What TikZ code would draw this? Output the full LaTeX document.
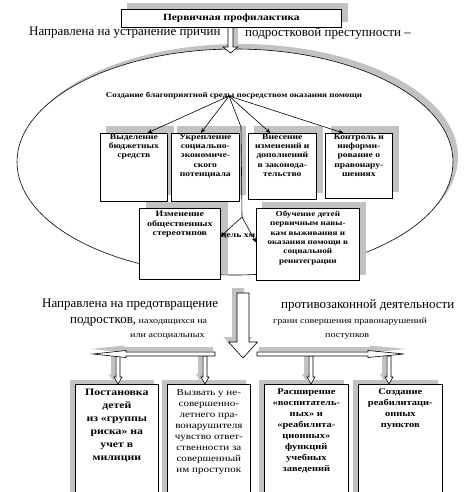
\documentclass[tikz,border=0pt]{standalone}
\usepackage{fontspec}
\setmainfont{Liberation Serif}
\newfontfamily\sfont[FakeStretch=1.2]{Liberation Serif}
\usetikzlibrary{arrows.meta,calc}
\pgfdeclarelayer{back}
\pgfdeclarelayer{bg}
\pgfsetlayers{back,bg,main}
\definecolor{shd}{gray}{0.76}
\newcommand{\vbarrow}[7]{%
  \fill[shd,shift={#7}] (#1-#5,#2) -- (#1+#5,#2) -- (#1+#5,#3) -- (#1+#6,#3) -- (#1,#4) -- (#1-#6,#3) -- (#1-#5,#3) -- cycle;
  \draw[fill=white,line width=0.6pt] (#1-#5,#2) -- (#1+#5,#2) -- (#1+#5,#3) -- (#1+#6,#3) -- (#1,#4) -- (#1-#6,#3) -- (#1-#5,#3) -- cycle;}
\newcommand{\hbarrow}[7]{%
  \fill[shd,shift={#7}] (#2,#1-#5) -- (#3,#1-#5) -- (#3,#1-#6) -- (#4,#1) -- (#3,#1+#6) -- (#3,#1+#5) -- (#2,#1+#5) -- cycle;
  \draw[fill=white,line width=0.6pt] (#2,#1-#5) -- (#3,#1-#5) -- (#3,#1-#6) -- (#4,#1) -- (#3,#1+#6) -- (#3,#1+#5) -- (#2,#1+#5) -- cycle;}
\newcommand{\shadowof}[3]{%
  \begin{pgfonlayer}{bg}\fill[shd] ($(#1.south west)+(#2,#3)$) rectangle ($(#1.north east)+(#2,#3)$);\end{pgfonlayer}}
\tikzset{
  box/.style={draw, line width=0.7pt, fill=white, anchor=north west, inner sep=0pt},
  btxt/.style={anchor=north, align=center, inner sep=0pt, font=\sfont\bfseries\fontsize{8}{9.2}\selectfont},
  etxt/.style={anchor=north, align=center, inner sep=0pt, font=\sfont\bfseries\fontsize{8.2}{9.6}\selectfont},
  ftxt/.style={anchor=north, align=center, inner sep=0pt, font=\sfont\bfseries\fontsize{7.6}{9.3}\selectfont},
  gtxt/.style={anchor=north, align=center, inner sep=0pt, font=\sfont\bfseries\fontsize{9.8}{13}\selectfont},
  itxt/.style={anchor=north, align=center, inner sep=0pt, font=\sfont\bfseries\fontsize{8.7}{11}\selectfont},
  htxt/.style={anchor=north, align=center, inner sep=0pt, font=\sfont\fontsize{9.2}{11}\selectfont},
  big/.style={anchor=west, inner sep=0pt, font=\fontsize{13}{15}\selectfont},
  small/.style={anchor=west, inner sep=0pt, font=\sfont\fontsize{8.4}{10}\selectfont},
  arr/.style={line width=0.6pt, -{Stealth[length=5pt,width=4pt]}},
  conn/.style={line width=0.6pt}
}
\begin{document}
\begin{tikzpicture}[x=1pt,y=-1pt]
\path[use as bounding box] (0,0) rectangle (469,492);
\clip (0,0) rectangle (469,492);
% ellipse
\begin{pgfonlayer}{back}
\fill[shd] (240,157) ellipse [x radius=218pt, y radius=113pt];
\draw[fill=white,line width=0.6pt] (235,162) ellipse [x radius=218pt, y radius=113pt];
\end{pgfonlayer}
% top arrow and box
\vbarrow{230.5}{27}{47}{53}{2.5}{7.5}{(5,-3)}
\node[box, minimum width=220pt, minimum height=18pt] (top) at (121,9) {};
\shadowof{top}{6}{-6}
\node[anchor=center, inner sep=0pt, font=\sfont\bfseries\fontsize{9.5}{11}\selectfont] (toptxt) at (top.center) {Первичная профилактика};
\node[big] (t1) at (29,33) {Направлена на устранение причин};
\node[big] (t2) at (245,33) {подростковой преступности –};
% heading
\node[inner sep=0pt, font=\sfont\bfseries\fontsize{7.5}{9}\selectfont] (hd) at (234,96) {Создание благоприятной среды посредством оказания помощи};
\coordinate (hub) at (229,96);
% row 1 boxes
\node[box, minimum width=67pt, minimum height=68pt] (A) at (100,133) {};
\shadowof{A}{6}{-7}
\node[btxt] at ([yshift=-1pt]A.north) {Выделение\\бюджетных\\средств};
\node[box, minimum width=68pt, minimum height=68pt] (B) at (171,133) {};
\shadowof{B}{6}{-7}
\node[btxt] at ([yshift=-1pt]B.north) {Укрепление\\социально-\\экономиче-\\ского\\потенциала};
\node[box, minimum width=68pt, minimum height=66pt] (C) at (248,133) {};
\shadowof{C}{6}{-7}
\node[btxt] at ([yshift=-1pt]C.north) {Внесение\\изменений и\\дополнений\\в законода-\\тельство};
\node[box, minimum width=67pt, minimum height=65pt] (D) at (325,133) {};
\shadowof{D}{6}{-7}
\node[btxt] at ([yshift=-1pt]D.north) {Контроль и\\информи-\\рование о\\правонару-\\шениях};
% row 2
\node[anchor=west, inner sep=0pt, font=\sfont\bfseries\fontsize{8}{9}\selectfont] (hid) at (221,236) {цель хм};
\node[box, minimum width=81pt, minimum height=71pt] (E) at (139,208) {};
\shadowof{E}{7}{-6}
\node[etxt] at ([yshift=-3pt]E.north) {Изменение\\общественных\\стереотипов};
\node[box, minimum width=103pt, minimum height=72pt] (F) at (256,208) {};
\shadowof{F}{6}{-6}
\node[ftxt] at ([yshift=-3pt]F.north) {Обучение детей\\первичным навы-\\кам выживания и\\оказания помощи в\\социальной\\реинтеграции};
% connectors
\coordinate (bend) at (241,127);
\coordinate (fork) at (242,217);
\draw[arr] (hub) -- ([xshift=13.5pt]A.north);
\draw[arr] (hub) -- ([xshift=-4.5pt]B.north);
\draw[arr] (hub) -- ([xshift=-12pt]C.north);
\draw[arr] (hub) -- ([xshift=-15.5pt]D.north);
\draw[conn] (hub) -- (bend) -- (fork);
\draw[arr] (fork) -- ([yshift=7.5pt]E.east);
\draw[arr] (fork) -- ([yshift=2pt]F.west);
% middle
\vbarrow{243}{293}{342}{358}{6}{14.5}{(-5,-5)}
\node[big] (m1) at (42,305) {Направлена на предотвращение};
\node[big] (m2) at (281,305) {противозаконной деятельности};
\node[anchor=west, inner sep=0pt] (m3) at (70,322) {{\fontsize{13}{15}\selectfont подростков,} {\sfont\fontsize{8.4}{10}\selectfont находящихся на}};
\node[small] (m4) at (273,322) {грани совершения правонарушений};
\node[small] (m5) at (130,336) {или асоциальных};
\node[small] (m6) at (325,336) {поступков};
% bottom boxes
\node[box, minimum width=83pt, minimum height=120pt] (G) at (75,384) {};
\shadowof{G}{-5}{-4}
\node[gtxt] at ([yshift=-5pt]G.north) {Постановка\\детей\\из «группы\\риска» на\\учет в\\милиции};
\node[box, minimum width=83pt, minimum height=120pt] (H) at (167,384) {};
\shadowof{H}{-5}{-4}
\node[htxt] at ([yshift=-5pt]H.north) {Вызвать у не-\\совершенно-\\летнего пра-\\вонарушителя\\чувство ответ-\\ственности за\\совершенный\\им проступок};
\node[box, minimum width=84pt, minimum height=120pt] (I) at (264,384) {};
\shadowof{I}{-5}{-4}
\node[itxt] at ([yshift=-5pt]I.north) {Расширение\\«воспитатель-\\ных» и\\«реабилита-\\ционных»\\функций\\учебных\\заведений};
\node[box, minimum width=84pt, minimum height=120pt] (J) at (358,384) {};
\shadowof{J}{-5}{-4}
\node[itxt] at ([yshift=-5pt]J.north) {Создание\\реабилитаци-\\онных\\пунктов};
% small down arrows
\vbarrow{118}{356}{377}{384}{2}{4}{(-5,-3)}
\vbarrow{205}{356}{377}{384}{2}{4}{(-5,-3)}
\vbarrow{311}{356}{377}{384}{2}{4}{(-5,-3)}
\vbarrow{389}{356}{377}{384}{2}{4}{(-5,-3)}
% horizontal arrows
\hbarrow{354}{215}{126}{93}{2}{3.5}{(-2,-5)}
\hbarrow{354}{257}{368}{404}{2}{3.5}{(2,-5)}
\end{tikzpicture}
\end{document}
